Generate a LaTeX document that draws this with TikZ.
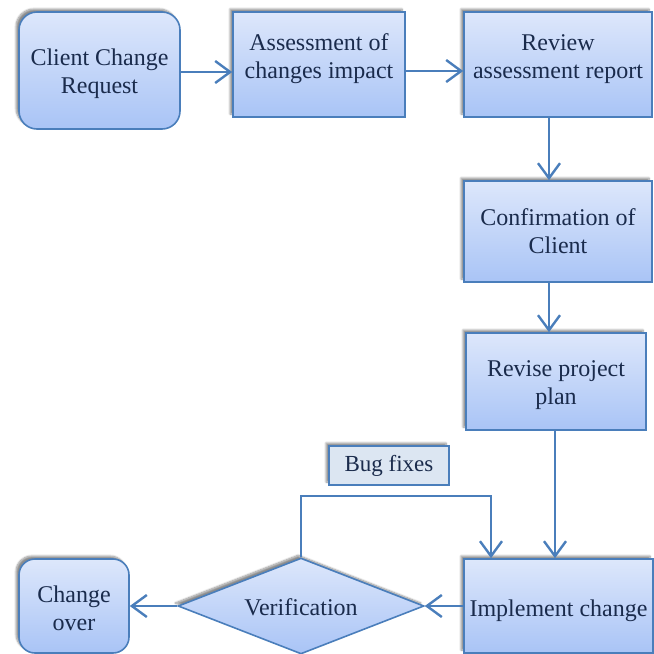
\documentclass[tikz,border=0pt]{standalone}
\usepackage{fontspec}
\setmainfont{Liberation Serif}
\usetikzlibrary{shapes.geometric,arrows.meta,shadows.blur}
\definecolor{edge}{HTML}{4A7EBB}
\definecolor{ftop}{HTML}{DDE7FB}
\definecolor{fbot}{HTML}{A9C4F6}
\definecolor{txt}{HTML}{1A2B4C}
\definecolor{bugfill}{HTML}{DCE6F2}
\tikzset{
  procbox/.style={draw=edge, line width=1.6pt, top color=ftop, bottom color=fbot,
    inner sep=0pt,
    blur shadow={shadow xshift=-3pt, shadow yshift=3pt, shadow blur steps=8, shadow opacity=45}},
  roundbox/.style={procbox, rounded corners=18pt},
  decbox/.style={procbox, diamond, aspect=2.5},
  boxtext/.style={text=txt, align=center, inner sep=0pt, font=\fontsize{24pt}{28pt}\selectfont},
  labelbox/.style={draw=edge, line width=1.6pt, fill=bugfill, text=txt,
    font=\fontsize{23pt}{26pt}\selectfont,
    blur shadow={shadow xshift=-3pt, shadow yshift=3pt, shadow blur steps=8, shadow opacity=45}},
  flow/.style={draw=edge, line width=2.4pt, -{Straight Barb[length=15pt,width=22pt,line width=2.4pt]}}
}
\begin{document}
\begin{tikzpicture}[x=1pt,y=-1pt]
\useasboundingbox (0,0) rectangle (654,654);
\node[roundbox, minimum width=161pt, minimum height=117pt] (ccr) at (99.5,70.5) {};
\node[boxtext] (ccrt) at (99.5,74) {Client Change\\Request};
\node[procbox, minimum width=172pt, minimum height=105pt] (ass) at (319,64.5) {};
\node[boxtext] (asst) at (319,58.5) {Assessment of\\changes impact};
\node[procbox, minimum width=188pt, minimum height=105pt] (rev) at (558,64.5) {};
\node[boxtext] (revt) at (558,59.5) {Review\\assessment report};
\node[procbox, minimum width=188pt, minimum height=101pt] (conf) at (558,231.5) {};
\node[boxtext] (conft) at (558,231.5) {Confirmation of\\Client};
\node[procbox, minimum width=180pt, minimum height=97pt] (revise) at (556,381.5) {};
\node[boxtext] (reviset) at (556,385.5) {Revise project\\plan};
\node[procbox, minimum width=189pt, minimum height=94pt] (impl) at (558.5,606) {};
\node[boxtext] (implt) at (558.5,611) {Implement change};
\node[decbox, minimum width=246pt, minimum height=96pt] (ver) at (301,606) {};
\node[boxtext] (vert) at (301,607.5) {Verification};
\node[roundbox, minimum width=110pt, minimum height=94pt, rounded corners=16pt] (co) at (74,606) {};
\node[boxtext] (cot) at (74,608) {Change\\over};
\node[labelbox, minimum width=120pt, minimum height=39pt] (bug) at (389,465.5) {Bug fixes};

\coordinate (a1) at (ccr.east |- 0,72);
\coordinate (a2) at (ass.east |- 0,71);
\draw[flow] (a1) -- (a1 -| ass.west);
\draw[flow] (a2) -- (a2 -| rev.west);
\draw[flow] (rev.south -| 549,0) -- (conf.north -| 549,0);
\draw[flow] (conf.south -| 549,0) -- (revise.north -| 549,0);
\draw[flow] (revise.south -| 555,0) -- (impl.north -| 555,0);
\draw[flow] (impl.west) -- (ver.east);
\draw[flow] (ver.west) -- (co.east);
\coordinate (l1) at (301,496);
\coordinate (l2) at (491,496);
\draw[flow] (ver.north) -- (l1) -- (l2) -- (l2 |- impl.north);
\end{tikzpicture}
\end{document}
